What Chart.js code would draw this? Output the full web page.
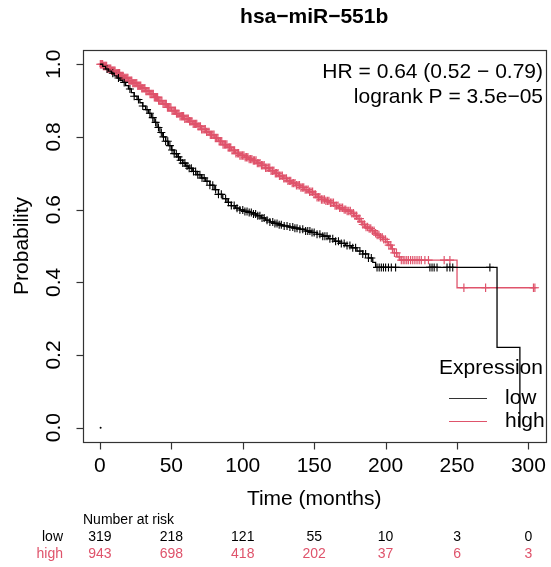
<!DOCTYPE html>
<html><head><meta charset="utf-8">
<script src="https://cdn.jsdelivr.net/npm/chart.js@4"></script>
<style>html,body{margin:0;padding:0;background:#fff;}canvas{display:block;}</style>
</head><body>
<canvas id="c" width="551" height="567"></canvas>
<script>
// ---- data ----
const lowTimes = [0,2,4,6,8,10,12,14,16,18,20,22,24,26,28,30,32,34,36,38,40,42,44,46,48,50,52,54,56,58,60,62,65,68,71,74,77,80,83,86,89,92,95,98,101,104,107,110,113,116,119,122,125,128,132,136,140,144,148,152,156,160,164,168,172,176,180,184,188,191,193,278,294];
const lowSurv  = [1,0.994,0.987,0.981,0.975,0.968,0.962,0.956,0.950,0.941,0.932,0.922,0.912,0.903,0.894,0.885,0.875,0.865,0.853,0.840,0.826,0.812,0.800,0.788,0.776,0.764,0.754,0.745,0.736,0.728,0.720,0.714,0.705,0.696,0.687,0.678,0.667,0.655,0.642,0.630,0.620,0.611,0.604,0.599,0.595,0.592,0.588,0.583,0.577,0.571,0.566,0.562,0.558,0.555,0.552,0.549,0.546,0.541,0.537,0.532,0.527,0.520,0.513,0.507,0.501,0.495,0.486,0.478,0.467,0.455,0.441,0.221,0.0];

const highTimes = [0,2,5,8,11,14,17,20,23,26,29,32,35,38,41,44,47,50,53,56,59,62,65,68,71,74,77,80,83,86,89,92,95,98,101,104,107,110,113,116,119,122,125,128,131,134,137,140,143,146,149,152,155,158,161,164,167,170,173,176,178,180,182,184,186,188,190,192,194,196,198,200,202,204,206,208,210,250,305];
const highSurv  = [1,0.995,0.988,0.982,0.975,0.968,0.962,0.955,0.948,0.941,0.934,0.926,0.918,0.909,0.900,0.891,0.881,0.872,0.864,0.857,0.850,0.843,0.836,0.829,0.821,0.814,0.806,0.797,0.788,0.779,0.771,0.763,0.755,0.749,0.744,0.739,0.735,0.728,0.722,0.715,0.707,0.700,0.693,0.686,0.679,0.673,0.667,0.661,0.655,0.649,0.642,0.634,0.628,0.624,0.619,0.611,0.605,0.600,0.596,0.590,0.583,0.575,0.567,0.559,0.552,0.548,0.542,0.535,0.530,0.524,0.518,0.511,0.502,0.492,0.481,0.470,0.461,0.385,0.385];

const lowCensor = [5,9,13,17,21,24,27,30,33,35,37,39,41,43,44.5,46,47.5,49,50.5,52,53.5,55,56.5,58,59.5,61,62.5,64,65.5,67,68.5,70,71.5,73,75,77,79,81,83,85,88,90,92,94,96,98,100,101.5,103,104.5,106,107.5,109,110.5,112,113.5,115,117,119,121,122.5,124,125.5,127,129,131,133,135,136.5,138,140,142,144,145.5,147,148.5,150,152,154,156,157.5,159,161,163,165,167,169,171,173,175,177,179,182,184,186,188,190,194,195.5,197,198.5,200,202,204,207,231,232.5,234,236,243,245,247,273];
const highCensor = [0.3,0.8,1.3,1.9,2.4,3,3.6,4.1,4.7,5.2,5.8,6.4,7,7.6,8.2,8.8,9.4,10,10.6,11.2,11.9,12.5,13.1,13.8,14.4,15,15.7,16.3,17,17.6,18.3,19,19.6,20.3,21,21.7,22.3,23,23.7,24.4,25.1,25.8,26.5,27.2,27.9,28.6,29.3,30,30.8,31.5,32.2,32.9,33.7,34.4,35.1,35.9,36.6,37.4,38.1,38.9,39.6,40.4,41.1,41.9,42.7,43.4,44.2,45,45.8,46.5,47.3,48.1,48.9,49.7,50.5,51.3,52.1,52.9,53.7,54.5,55.3,56.1,57,57.8,58.6,59.4,60.3,61.1,61.9,62.8,63.6,64.4,65.3,66.1,67,67.8,68.7,69.5,70.4,71.2,72.1,73,73.8,74.7,75.6,76.4,77.3,78.2,79.1,79.9,80.8,81.7,82.6,83.5,84.4,85.3,86.2,87.1,88,88.9,89.8,90.7,91.6,92.5,93.4,94.3,95.2,96.2,97.1,98,98.9,99.9,100.8,101.7,102.7,103.6,104.5,105.5,106.4,107.4,108.3,109.3,110.2,111.2,112.1,113.1,114,115,116,116.9,117.9,118.9,119.8,120.8,121.8,122.8,123.7,124.7,125.7,126.7,127.7,128.7,129.6,130.6,131.6,132.6,133.6,134.6,135.6,136.6,137.6,138.7,139.7,140.7,141.7,142.7,143.7,144.8,145.8,146.8,147.8,148.9,149.9,150.9,152,153,154,155.1,156.1,157.2,158.2,159.3,160.3,161.4,162.4,163.5,164.6,165.6,166.7,167.8,168.8,169.9,171,172.1,173.1,174.2,175.3,176.4,177.5,178.6,179.7,180.8,181.9,183,184.1,185.2,186.3,187.4,188.5,189.6,190.8,191.9,193,194.1,195.3,196.4,197.6,198.7,199.9,201.1,202.3,203.6,204.8,206.2,207.6,209.5,211,212.3,213.5,214.8,216,217.5,219,220.5,222,223.5,225,227.5,230,241,245,254.8,270,303.5,304.5];

const xTicks = [0,50,100,150,200,250,300];
const yTicks = [0,0.2,0.4,0.6,0.8,1.0];
const yTickLabels = ["0.0","0.2","0.4","0.6","0.8","1.0"];
const riskTimes = [0,50,100,150,200,250,300];
const riskLow  = [319,218,121,55,10,3,0];
const riskHigh = [943,698,418,202,37,6,3];
const groupNames = ["low","high"];

const titleText = "hsa\u2212miR\u2212551b";
const statLines = ["HR = 0.64 (0.52 \u2212 0.79)", "logrank P = 3.5e\u221205"];

// ---- helpers ----
const RED = "#DF536B", BLK = "#000000";
const F = '"Liberation Sans", Arial, Helvetica, sans-serif';
function toXY(ts, ss){ return ts.map((t,i)=>({x:t,y:ss[i]})); }
function survAt(ts, ss, t){ let v = ss[0]; for(let i=0;i<ts.length;i++){ if(ts[i]<=t) v = ss[i]; else break; } return v; }
function censorPts(cs, ts, ss){ return cs.map(t=>({x:t,y:survAt(ts,ss,t)})); }

const kmPlugin = {
  id:'km',
  afterDraw(chart){
    const {ctx, chartArea:a, scales:{x,y}} = chart;
    ctx.save();
    ctx.strokeStyle = '#333'; ctx.lineWidth = 1.2;
    const L=Math.round(a.left)+0.5, T=Math.round(a.top)+0.5, R=Math.round(a.right)+0.5, B=Math.round(a.bottom)+0.5;
    ctx.strokeRect(L, T, R-L, B-T);
    ctx.fillStyle = '#000';
    ctx.font = '21px ' + F; ctx.textAlign='center'; ctx.textBaseline='middle';
    xTicks.forEach(v=>{
      const px = Math.round(x.getPixelForValue(v))+0.5;
      ctx.beginPath(); ctx.moveTo(px, B); ctx.lineTo(px, B+7); ctx.stroke();
      ctx.fillText(String(v), x.getPixelForValue(v), 466);
    });
    yTicks.forEach((v,i)=>{
      const py = Math.round(y.getPixelForValue(v))+0.5;
      ctx.beginPath(); ctx.moveTo(L-7, py); ctx.lineTo(L, py); ctx.stroke();
      ctx.save(); ctx.translate(54, y.getPixelForValue(v)); ctx.rotate(-Math.PI/2);
      ctx.fillText(yTickLabels[i], 0, 0); ctx.restore();
    });
    ctx.fillText('Time (months)', (a.left+a.right)/2, 499);
    ctx.save(); ctx.translate(22, (a.top+a.bottom)/2); ctx.rotate(-Math.PI/2);
    ctx.fillText('Probability', 0, 0); ctx.restore();
    ctx.font = 'bold 21px ' + F;
    ctx.fillText(titleText, (a.left+a.right)/2, 17);
    ctx.font = '21px ' + F; ctx.textAlign='right';
    ctx.fillText(statLines[0], 543, 72);
    ctx.fillText(statLines[1], 543, 97);
    ctx.textAlign='center';
    ctx.fillText('Expression', 491, 368);
    ctx.textAlign='left';
    ctx.lineWidth = 1;
    ctx.strokeStyle = '#333'; ctx.beginPath(); ctx.moveTo(449, 398.5); ctx.lineTo(487, 398.5); ctx.stroke();
    ctx.fillText(groupNames[0], 505, 398);
    ctx.strokeStyle = RED; ctx.beginPath(); ctx.moveTo(449, 421.5); ctx.lineTo(487, 421.5); ctx.stroke();
    ctx.fillText(groupNames[1], 505, 421);
    ctx.font = '14px ' + F;
    ctx.fillStyle = '#000'; ctx.textAlign='left';
    ctx.fillText('Number at risk', 83, 520);
    ctx.textAlign='right';
    ctx.fillText(groupNames[0], 63, 537);
    ctx.fillStyle = RED;
    ctx.fillText(groupNames[1], 63, 554);
    ctx.textAlign='center';
    riskTimes.forEach((t,i)=>{
      const px = x.getPixelForValue(t);
      ctx.fillStyle = '#000'; ctx.fillText(String(riskLow[i]), px, 537);
      ctx.fillStyle = RED; ctx.fillText(String(riskHigh[i]), px, 554);
    });
    ctx.restore();
  }
};

new Chart(document.getElementById('c'), {
  type: 'line',
  data: {
    datasets: [
      {label:'low', data: toXY(lowTimes, lowSurv), stepped:true, borderColor:BLK, borderWidth:1.3, pointRadius:0, fill:false},
      {label:'high', data: toXY(highTimes, highSurv), stepped:true, borderColor:RED, borderWidth:1.3, pointRadius:0, fill:false},
      {label:'low censored', data: censorPts(lowCensor, lowTimes, lowSurv), showLine:false, pointStyle:'cross', pointRadius:4, borderColor:BLK, borderWidth:1.1},
      {label:'high censored', data: censorPts(highCensor, highTimes, highSurv), showLine:false, pointStyle:'cross', pointRadius:4.2, borderColor:RED, borderWidth:1.2},
      {label:'origin', data: [{x:0.5,y:0}], showLine:false, pointStyle:'circle', pointRadius:1, backgroundColor:BLK, borderColor:BLK, borderWidth:0}
    ]
  },
  options: {
    responsive:false, animation:false, devicePixelRatio:1,
    layout:{padding:{left:82.76, right:2.8, top:49.7, bottom:124.8}},
    plugins:{legend:{display:false}, tooltip:{enabled:false}},
    scales:{
      x:{type:'linear', min:-12, max:312, display:false},
      y:{type:'linear', min:-0.04, max:1.04, display:false}
    },
    elements:{line:{tension:0}}
  },
  plugins:[kmPlugin]
});
</script>
</body></html>
